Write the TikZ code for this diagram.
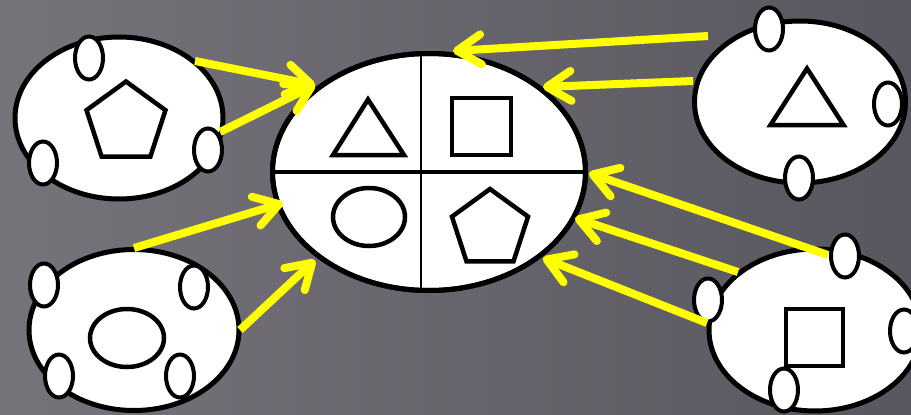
\documentclass[tikz,border=0pt]{standalone}
\usetikzlibrary{shapes.geometric,arrows.meta}
\definecolor{bgA}{RGB}{118,115,123}
\definecolor{bgB}{RGB}{88,86,94}
\definecolor{arrowyellow}{RGB}{255,255,0}
\begin{document}
\begin{tikzpicture}[x=1pt,y=-1pt,
  big/.style={ellipse, draw=black, fill=white, line width=5pt, inner sep=0pt},
  small/.style={ellipse, draw=black, fill=white, line width=4pt, inner sep=0pt, minimum width=28pt, minimum height=43pt},
  shp/.style={draw=black, fill=white, line width=4.5pt, inner sep=0pt},
  tri/.style={draw=black, fill=white, line width=4.5pt, line join=miter},
  divider/.style={draw=black},
  flow/.style={draw=arrowyellow, line width=8pt, -{Straight Barb[length=24pt,width=30pt,round]}}
]
\useasboundingbox (0,0) rectangle (911,415);
\clip (0,0) rectangle (911,415);
\shade[left color=bgA, right color=bgB] (0,0) rectangle (911,415);

% central ellipse
\node[big, minimum width=313pt, minimum height=237pt] (C) at (429,172) {};
\draw[divider, line width=4.5pt] (C.west) -- (C.east);
\coordinate (vtop) at (421,53.5);
\coordinate (vbot) at (421,290.5);
\draw[divider, line width=2pt] (vtop) -- (vbot);
\node[big, fill=none, minimum width=313pt, minimum height=237pt] (Cb) at (429,172) {};
\draw[tri] (368,99.5) -- (333,155) -- (404,155) -- cycle;
\node[shp, rectangle, minimum width=59pt, minimum height=57pt] (sqC) at (481.5,126.5) {};
\node[shp, ellipse, minimum width=72pt, minimum height=58pt] (elC) at (369,217) {};
\node[shp, regular polygon, regular polygon sides=5, minimum size=80pt] (peC) at (490,229) {};

% top-left
\node[big, minimum width=208pt, minimum height=162pt] (TL) at (119,118) {};
\node[shp, regular polygon, regular polygon sides=5, minimum size=83pt] (peTL) at (126,123) {};
\node[small] (tl1) at (89,58) {};
\node[small] (tl2) at (43,163) {};
\node[small] (tl3) at (208,150) {};

% bottom-left
\node[big, minimum width=210pt, minimum height=161pt] (BL) at (134,330) {};
\node[shp, ellipse, minimum width=74pt, minimum height=58pt] (elBL) at (127,338) {};
\node[small] (bl1) at (44,285) {};
\node[small] (bl2) at (194,287) {};
\node[small] (bl3) at (59,376) {};
\node[small] (bl4) at (180,376) {};

% top-right
\node[big, minimum width=211pt, minimum height=162pt] (TR) at (800,102) {};
\draw[tri] (807,68.5) -- (770.5,125) -- (843.5,125) -- cycle;
\node[small] (tr1) at (769,29) {};
\node[small] (tr2) at (888,104) {};
\node[small] (tr3) at (799,178) {};

% bottom-right
\node[big, minimum width=212pt, minimum height=162pt] (BR) at (815,330) {};
\node[shp, rectangle, minimum width=57pt, minimum height=57pt] (sqBR) at (814.5,337.5) {};
\node[small] (br1) at (845,256) {};
\node[small] (br2) at (708,300) {};
\node[small] (br3) at (904,331) {};
\node[small] (br4) at (784,390) {};

% arrow end points
\coordinate (a1s) at (195,61);  \coordinate (a1e) at (315,85);
\coordinate (a2s) at (220,132); \coordinate (a2e) at (315,85);
\coordinate (a3s) at (134,248); \coordinate (a3e) at (283,203);
\coordinate (a4s) at (240,330); \coordinate (a4e) at (315,260);
\coordinate (a5s) at (708,36);  \coordinate (a5e) at (453,51);
\coordinate (a6s) at (693,81);  \coordinate (a6e) at (543,87);
\coordinate (a7s) at (828,255); \coordinate (a7e) at (589,173);
\coordinate (a8s) at (738,272); \coordinate (a8e) at (575,218);
\coordinate (a9s) at (707,323); \coordinate (a9e) at (543,258);

\draw[flow] (a1s) -- (a1e);
\draw[flow] (a2s) -- (a2e);
\draw[flow] (a3s) -- (a3e);
\draw[flow] (a4s) -- (a4e);
\draw[flow] (a5s) -- (a5e);
\draw[flow] (a6s) -- (a6e);
\draw[flow] (a7s) -- (a7e);
\draw[flow] (a8s) -- (a8e);
\draw[flow] (a9s) -- (a9e);
\end{tikzpicture}
\end{document}
